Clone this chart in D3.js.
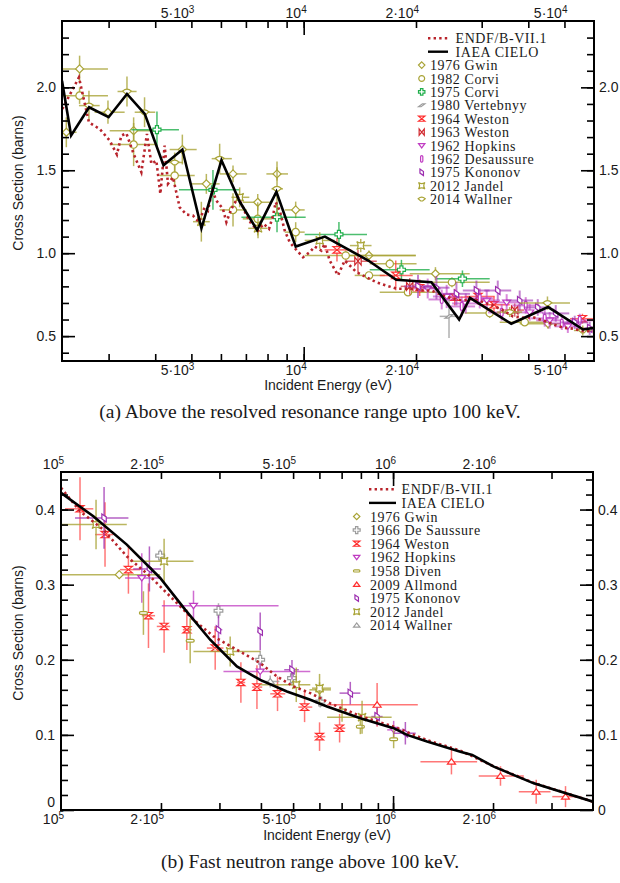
<!DOCTYPE html>
<html>
<head>
<meta charset="utf-8">
<script src="https://cdn.jsdelivr.net/npm/d3@7"></script>
<style>
  html, body { margin: 0; padding: 0; background: #fff; }
  svg { display: block; }
</style>
</head>
<body>
<svg id="chart" width="620" height="883"></svg>
<script>
// ---------------- Panel (a): unresolved range, 2.25 keV – 60 keV ----------------
// Evaluations: [energy (eV), cross section (b)]
const cieloA = [[2250,2.04],[2380,1.71],[2660,1.88],[3000,1.82],[3360,1.96],[3750,1.84],[4210,1.53],
  [4730,1.625],[5320,1.15],[6020,1.56],[6740,1.31],[7500,1.14],[8450,1.37],[9520,1.04],[11400,1.10],
  [14900,0.956],[17700,0.84],[22000,0.825],[26100,0.60],[27900,0.73],[36000,0.575],[45200,0.675],
  [56100,0.54],[60000,0.55]];
const endfA = [[2255,1.870],[2498,2.060],[2657,1.789],[2839,1.749],[3020,1.679],[3158,1.595],[3245,1.709],
  [3347,1.723],[3501,1.599],[3672,1.488],[3801,1.719],[3906,1.539],[4028,1.558],[4129,1.358],[4240,1.649],
  [4327,1.418],[4462,1.458],[4651,1.277],[4847,1.233],[5049,1.227],[5240,1.187],[5427,1.277],[5538,1.257],
  [5690,1.378],[5834,1.317],[6076,1.267],[6206,1.187],[6401,1.267],[6667,1.337],[6877,1.277],[7022,1.227],
  [7242,1.177],[7544,1.137],[7815,1.177],[8075,1.147],[8276,1.227],[8414,1.307],[8625,1.257],[8895,1.137],
  [9173,1.066],[9559,1.020],[9957,0.976],[10378,1.006],[10702,1.040],[11155,1.016],[11384,1.057],
  [11740,0.956],[12360,0.866],[12880,0.956],[13285,0.926],[13845,0.886],[14730,0.855],[15665,0.825],
  [16660,0.805],[17720,0.786],[18655,0.786],[19635,0.786],[20680,0.775],[21995,0.775],[23630,0.745],
  [25130,0.725],[26730,0.715],[28430,0.725],[30240,0.705],[32160,0.685],[34210,0.655],[36390,0.619],
  [38700,0.611],[41170,0.614],[43800,0.595],[46580,0.571],[49560,0.551],[52720,0.545],[56080,0.530],
  [60000,0.530]];

// Measurements: [energy, cross section, energy low, energy high, cross-section uncertainty]
const gwinA = [[2508,2.111,2250,2988,0.08],[2311,1.729,2250,2462,0.09],[2988,1.85,2752,3312,0.07],
  [3501,1.739,3020,4036,0.08],[4729,1.625,4373,5166,0.09],[5484,1.418,5000,5953,0.06],
  [6465,1.478,5953,7035,0.05],[7530,1.307,6864,8210,0.05],[8482,1.478,7943,9077,0.04],
  [9518,1.261,8895,10062,0.05],[14960,0.986,13150,19970,0.03],[22550,0.876,19240,27860,0.04],
  [45190,0.575,37930,52300,0.03]];
const corvi82A = [[2508,1.95,2250,2988,0.05],[3501,1.655,3020,4036,0.13],[4510,1.468,4111,5104,0.06],
  [6465,1.261,5953,7035,0.10],[7530,1.207,6864,8210,0.10],[9518,1.127,8895,10062,0.06],
  [12960,0.986,10062,19970,0.03],[14960,0.866,13700,16490,0.02],[17010,0.936,15030,20070,0.03],
  [19040,0.765,15990,23150,0.02],[24970,0.825,20460,31520,0.03],[31520,0.639,27010,37930,0.03],
  [39120,0.584,33530,45640,0.02]];
const corvi75A = [[4043,1.745,3452,4631,0.11],[5712,1.382,4631,6736,0.12],[8482,1.217,6808,10124,0.09],
  [12430,1.113,10062,14780,0.075],[18280,0.90,15030,21760,0.06],[26640,0.846,22690,31520,0.05]];
const vertebnyyA = [[24520,0.619,23150,26000,0.13]];
const weston64A = [[12280,1.02,11380,13420,0.07],[17650,0.866,15990,19600,0.09],[20460,0.792,18660,23150,0.05],
  [25400,0.735,23150,27860,0.05],[29330,0.739,27010,32500,0.05],[32360,0.689,29680,35660,0.05],
  [55870,0.605,51730,60000,0.03]];
const weston63A = [[13980,0.952,12880,15700,0.07],[19240,0.80,18200,20300,0.05],[36780,0.657,34500,39000,0.04]];
const hopkinsA = [[21500,0.787,19800,23300,0.06],[24170,0.739,22200,26200,0.07],[27190,0.697,25000,29500,0.06],
  [30950,0.715,28500,33600,0.06],[35000,0.703,32200,38000,0.05],[40350,0.643,37100,43800,0.05],
  [45640,0.595,42000,49600,0.05],[51050,0.559,47000,55400,0.04]];
const desaussureA = [[23440,0.721,21600,25400,0.06],[26520,0.679,24400,28800,0.06],[29640,0.727,27300,32200,0.06],
  [33940,0.643,31200,36900,0.05],[39370,0.685,36200,42800,0.05],[44260,0.607,40700,48100,0.05],
  [49190,0.577,45300,53400,0.04],[54950,0.595,50600,59700,0.04]];
const kononovA = [[20250,0.80,18600,22000,0.07],[22690,0.792,20900,24600,0.07],[25670,0.755,23600,27900,0.07],
  [29040,0.775,26700,31500,0.06],[33130,0.775,30500,36000,0.06],[37930,0.715,34900,41200,0.06],
  [42400,0.673,39000,46000,0.05],[47380,0.637,43600,51500,0.05],[53270,0.583,49000,57900,0.04],
  [58420,0.547,53700,60000,0.04]];
const jandelA = [[6736,1.337,6400,7150,0.06],[5317,1.19,5050,5600,0.12],[7544,1.15,7100,8000,0.06],
  [11040,1.077,10062,12110,0.05],[14220,1.046,13300,15200,0.04]];
const wallnerA = [[2657,1.89,2498,2839,0.09],[3360,1.975,3170,3565,0.09],[3745,1.85,3524,4000,0.09],
  [5953,1.57,5667,6418,0.09],[4510,1.547,4300,4750,0.06],[8482,1.388,8200,8800,0.165],
  [35660,0.645,33000,38500,0.03],[45020,0.699,37930,51730,0.04],[55980,0.534,53000,59000,0.03]];

const xTicksA = [3e3,4e3,5e3,6e3,7e3,8e3,9e3,1e4,2e4,3e4,4e4,5e4];
const xDecadesA = [1e4];
const xLabelsA = [5e3,1e4,2e4,5e4];
const yMinorA = [0.4,0.5,0.6,0.7,0.8,0.9,1.0,1.1,1.2,1.3,1.4,1.5,1.6,1.7,1.8,1.9,2.0,2.1,2.2,2.3];
const yLabelsA = [0.5,1.0,1.5,2.0];

// ---------------- Panel (b): fast range, 100 keV – 4 MeV ----------------
const cieloB = [[100000,0.4222],[125130,0.391],[157800,0.3533],[198900,0.3089],[236500,0.2667],
  [281300,0.2267],[338600,0.1911],[398000,0.1733],[479000,0.1577],[563300,0.1467],[632400,0.1378],
  [797000,0.1223],[1004000,0.1089],[1102000,0.100],[1266000,0.0911],[1595000,0.0777],[1731000,0.0733],
  [2011000,0.0577],[2654000,0.0355],[4000000,0.0111]];
const endfB = [[100000,0.429],[114100,0.3977],[134100,0.3733],[157800,0.3377],[185500,0.311],
  [213200,0.2844],[250600,0.2533],[287900,0.2311],[338600,0.2133],[398000,0.1956],[447000,0.1778],
  [501500,0.1644],[563300,0.1556],[647100,0.142],[797000,0.125],[1004000,0.111],[1266000,0.093],
  [1595000,0.079],[2011000,0.058],[2654000,0.036],[4000000,0.011]];

const gwinB = [[149800,0.3133,100000,198900,0.005],[600600,0.16,560000,650000,0.01]];
const desaussureB = [[198900,0.3387,192000,206000,0.008],[298000,0.2653,290000,306000,0.01],
  [398000,0.20,388000,408000,0.012],[496100,0.1756,485000,507000,0.01],[603500,0.1444,590000,617000,0.008]];
const weston64B = [[114100,0.401,102800,125100,0.042],[135700,0.3667,126600,143500,0.043],
  [159600,0.32,150600,173000,0.032],[183400,0.2587,175100,192000,0.043],[204400,0.2444,194300,213200,0.035],
  [239300,0.24,232800,247700,0.027],[291300,0.2156,275000,308500,0.029],[348100,0.1698,338600,358600,0.027],
  [389100,0.1636,376500,403600,0.029],[448800,0.1547,426700,473500,0.023],[541400,0.137,518200,571000,0.02],
  [600600,0.0977,579000,625000,0.019],[690200,0.1089,660700,718100,0.019]];
const hopkinsB = [[175100,0.3089,155900,198900,0.033],[250600,0.272,201200,452000,0.02],
  [398000,0.1844,308500,563300,0.012],[1004000,0.1067,960000,1060000,0.012]];
const divenB = [[177100,0.2622,172000,182000,0.029],[244900,0.2253,238000,252000,0.03],
  [702000,0.1324,690000,715000,0.015],[797000,0.111,785000,810000,0.01],[1004000,0.0942,990000,1020000,0.012]];
const allmondB = [[895200,0.14,633000,1187000,0.029],[1499000,0.0644,1209000,1791000,0.017],
  [2106000,0.0453,1811000,2476000,0.013],[2698000,0.0244,2391000,2980000,0.016],
  [3306000,0.0178,3016000,3669000,0.014]];
const kononovB = [[134800,0.3889,110200,159600,0.041],[184600,0.3209,165000,200000,0.03],
  [298000,0.24,290000,306000,0.019],[398000,0.2378,390000,406000,0.025],[496100,0.1867,470000,520000,0.013],
  [743300,0.1556,690000,797000,0.015],[895200,0.1244,860000,930000,0.012],[1089000,0.1022,1004000,1170000,0.015]];
const jandelB = [[127500,0.38,100000,157800,0.033],[204400,0.3311,161400,250600,0.03],
  [323200,0.2111,250600,398000,0.02],[511100,0.1667,398000,563300,0.023],[600600,0.1622,570000,650000,0.019],
  [806500,0.1236,633000,990000,0.022]];
const wallnerB = [[426700,0.1711,400000,455000,0.008]];

const xTicksB = [2e5,3e5,4e5,5e5,6e5,7e5,8e5,9e5,1e6,2e6,3e6];
const xDecadesB = [1e6];
const xLabelsB = [1e5,2e5,5e5,1e6,2e6];
const yMinorB = [0.02,0.04,0.06,0.08,0.1,0.12,0.14,0.16,0.18,0.2,0.22,0.24,0.26,0.28,0.3,0.32,0.34,0.36,0.38,0.4,0.42,0.44];
const yLabelsB = [0,0.1,0.2,0.3,0.4];

// ---------------- styling ----------------
const OLIVE = "#a9a437", GREEN = "#1fae4b", RED = "#ff2e2e", DRED = "#d0262c",
      MAG = "#c03cc2", PURP = "#9c2eb0", GRAY = "#9c9c9c", ENDF_C = "#b8232b";
const SANS = "'Liberation Sans', Arial, sans-serif";
const SERIF = "'Liberation Serif', 'Times New Roman', serif";

const svg = d3.select("#chart");

// marker outlines, centred on the origin, half-size s
function shapePath(kind, s) {
  switch (kind) {
    case "diamond": return `M0,${-s}L${s},0L0,${s}L${-s},0Z`;
    case "circle": return d3.symbol(d3.symbolCircle, Math.PI * s * s * 0.85)();
    case "plus": { const a = s * 0.38;
      return `M${-a},${-s}H${a}V${-a}H${s}V${a}H${a}V${s}H${-a}V${a}H${-s}V${-a}H${-a}Z`; }
    case "slash": return `M${-s},${s*0.45}L${s*0.2},${-s*0.45}L${s},${-s*0.45}L${-s*0.2},${s*0.45}Z`;
    case "hourglass": return `M${-s},${-s*0.8}H${s}L${-s},${s*0.8}H${s}Z`;
    case "bowtie": return `M${-s*0.8},${-s}V${s}L${s*0.8},${-s}V${s}Z`;
    case "triDown": return `M${-s},${-s*0.6}H${s}L0,${s*0.75}Z`;
    case "triUp": return `M${-s},${s*0.6}H${s}L0,${-s*0.75}Z`;
    case "vbar": { const w = s * 0.35;
      return `M${-w},${-s+w}A${w},${w} 0 0 1 ${w},${-s+w}V${s-w}A${w},${w} 0 0 1 ${-w},${s-w}Z`; }
    case "hbar": { const h = s * 0.35;
      return `M${-s+h},${-h}H${s-h}A${h},${h} 0 0 1 ${s-h},${h}H${-s+h}A${h},${h} 0 0 1 ${-s+h},${-h}Z`; }
    case "rhomb": return `M${-s*0.55},${-s}L${s*0.55},${-s*0.25}V${s}L${-s*0.55},${s*0.25}Z`;
    case "star": return `M${-s},${-s}Q0,${-s*0.3} ${s},${-s}Q${s*0.3},0 ${s},${s}Q0,${s*0.3} ${-s},${s}Q${-s*0.3},0 ${-s},${-s}Z`;
    case "saucer": return `M${-s*1.1},${-s*0.1}Q0,${-s*1.1} ${s*1.1},${-s*0.1}L${s*0.3},${s*0.6}H${-s*0.3}Z`;
    case "flower": return d3.symbol(d3.symbolCross, s * s * 2.6)();
  }
}

// "m·10^e" tick label with a raised exponent
function logLabel(sel, v) {
  const e = Math.floor(Math.log10(v) + 1e-9);
  const m = Math.round(v / Math.pow(10, e));
  sel.text(null);
  sel.append("tspan").text((m === 1 ? "" : m + "\u00b7") + "10");
  sel.append("tspan").attr("dy", -5.5).attr("font-size", 10).text(e);
}

function styleAxis(g) {
  g.select(".domain").remove();
  g.attr("color", "#000");
  g.selectAll("line").attr("stroke-width", 1.6);
  g.selectAll("text").attr("font-family", SANS).attr("font-size", 14).attr("fill", "#1a1a1a");
}

function drawPanel(P) {
  const x = P.x, y = P.y;
  const [xl, xr] = x.range(), [yb, yt] = y.range();

  svg.append("clipPath").attr("id", P.id + "-clip")
    .append("rect").attr("x", xl).attr("y", yt).attr("width", xr - xl).attr("height", yb - yt);
  const plot = svg.append("g").attr("clip-path", `url(#${P.id}-clip)`);

  // experimental points with error bars
  P.series.forEach(s => {
    const gs = plot.append("g");
    const eb = gs.append("g").attr("stroke", s.color).attr("stroke-width", s.ebWidth || 1.5)
      .attr("stroke-opacity", s.ebOpacity || 0.8);
    eb.selectAll("line.h").data(s.data).join("line").attr("class", "h")
      .attr("x1", d => x(d[2])).attr("x2", d => x(d[3]))
      .attr("y1", d => y(d[1])).attr("y2", d => y(d[1]));
    eb.selectAll("line.v").data(s.data).join("line").attr("class", "v")
      .attr("x1", d => x(d[0])).attr("x2", d => x(d[0]))
      .attr("y1", d => y(d[1] - d[4])).attr("y2", d => y(d[1] + d[4]));
    gs.selectAll("path").data(s.data).join("path")
      .attr("d", shapePath(s.shape, 4))
      .attr("transform", d => `translate(${x(d[0])},${y(d[1])})`)
      .attr("fill", "#fff").attr("stroke", s.color).attr("stroke-width", 1.2);
  });

  const line = d3.line().x(d => x(d[0])).y(d => y(d[1]));
  plot.append("path").datum(P.endf).attr("d", line).attr("fill", "none")
    .attr("stroke", ENDF_C).attr("stroke-width", 2.6).attr("stroke-dasharray", "2.4,3.2");
  plot.append("path").datum(P.cielo).attr("d", line).attr("fill", "none")
    .attr("stroke", "#000").attr("stroke-width", 2.6).attr("stroke-linejoin", "miter");

  // axes: ticks point inward, labels outside
  svg.append("g").attr("transform", `translate(0,${yb})`)
    .call(d3.axisBottom(x).tickValues(P.xTicks).tickSize(-7).tickFormat("")).call(styleAxis);
  svg.append("g").attr("transform", `translate(0,${yb})`)
    .call(d3.axisBottom(x).tickValues(P.xDecades).tickSize(-14).tickFormat("")).call(styleAxis);
  svg.append("g").attr("transform", `translate(0,${yt})`)
    .call(d3.axisTop(x).tickValues(P.xTicks).tickSize(-7).tickFormat("")).call(styleAxis);
  svg.append("g").attr("transform", `translate(0,${yt})`)
    .call(d3.axisTop(x).tickValues(P.xDecades).tickSize(-14).tickFormat("")).call(styleAxis);

  [[yb + P.xLabelBottomDy], [yt - 3]].forEach(([ty]) => {
    svg.append("g").selectAll("text").data(P.xLabels).join("text")
      .attr("x", d => x(d) + 3).attr("y", ty).attr("text-anchor", "end")
      .attr("font-family", SANS).attr("font-size", 14).attr("fill", "#1a1a1a")
      .each(function (d) { logLabel(d3.select(this), d); });
  });

  const yLeft = svg.append("g").attr("transform", `translate(${xl},0)`);
  yLeft.append("g").call(d3.axisLeft(y).tickValues(P.yMinor).tickSize(-7).tickFormat("")).call(styleAxis);
  // the "0" label sits a little higher so it clears the corner energy label below it
  yLeft.append("g").call(d3.axisLeft(y).tickValues(P.yLabels).tickSize(-13).tickPadding(6).tickFormat(P.yFmt))
    .call(styleAxis)
    .call(g => g.selectAll(".tick text").filter(d => d === 0).attr("dy", "-0.22em"));
  const yRight = svg.append("g").attr("transform", `translate(${xr},0)`);
  yRight.append("g").call(d3.axisRight(y).tickValues(P.yMinor).tickSize(-7).tickFormat("")).call(styleAxis);
  yRight.append("g").call(d3.axisRight(y).tickValues(P.yLabels).tickSize(-13).tickPadding(5).tickFormat(P.yFmt))
    .call(styleAxis);

  svg.append("rect").attr("x", xl).attr("y", yt).attr("width", xr - xl).attr("height", yb - yt)
    .attr("fill", "none").attr("stroke", "#000").attr("stroke-width", 2);

  // axis titles and caption
  svg.append("text").attr("transform", `translate(18,${(yb + yt) / 2 - 8}) rotate(-90)`)
    .attr("text-anchor", "middle").attr("dominant-baseline", "central")
    .attr("font-family", SANS).attr("font-size", 14).attr("fill", "#1a1a1a").text("Cross Section (barns)");
  svg.append("text").attr("x", (xl + xr) / 2).attr("y", yb + P.xTitleDy)
    .attr("text-anchor", "middle").attr("font-family", SANS).attr("font-size", 14).attr("fill", "#1a1a1a")
    .text("Incident Energy (eV)");
  svg.append("text").attr("x", 310).attr("y", P.captionY).attr("text-anchor", "middle")
    .attr("font-family", SERIF).attr("font-size", 19.5).attr("fill", "#1a1a1a").text(P.caption);

  // legend
  const L = P.legend;
  const lg = svg.append("g").attr("font-family", SERIF).attr("font-size", 14)
    .attr("letter-spacing", 0.6).attr("fill", "#1a1a1a");
  lg.append("line").attr("x1", L.lineX0).attr("x2", L.lineX1).attr("y1", L.y0).attr("y2", L.y0)
    .attr("stroke", ENDF_C).attr("stroke-width", 2.4).attr("stroke-dasharray", "2.4,3.2");
  lg.append("text").attr("x", L.lineTextX).attr("y", L.y0 + 5).text("ENDF/B-VII.1");
  lg.append("line").attr("x1", L.lineX0).attr("x2", L.lineX1).attr("y1", L.y0 + L.dy).attr("y2", L.y0 + L.dy)
    .attr("stroke", "#000").attr("stroke-width", 2.4);
  lg.append("text").attr("x", L.lineTextX).attr("y", L.y0 + L.dy + 5).text("IAEA CIELO");
  P.series.forEach((s, i) => {
    const cy = L.y0 + (i + 2) * L.dy;
    lg.append("path").attr("d", shapePath(s.shape, 3.2)).attr("transform", `translate(${L.markerX},${cy})`)
      .attr("fill", "#fff").attr("stroke", s.color).attr("stroke-width", 1.2);
    lg.append("text").attr("x", L.textX).attr("y", cy + 5).text(s.name);
  });
}

drawPanel({
  id: "pa",
  x: d3.scaleLog().domain([2250, 60000]).range([62, 594]),
  y: d3.scaleLinear().domain([0.35, 2.4]).range([361, 21]),
  cielo: cieloA, endf: endfA,
  xTicks: xTicksA, xDecades: xDecadesA, xLabels: xLabelsA,
  yMinor: yMinorA, yLabels: yLabelsA, yFmt: d3.format(".1f"),
  xLabelBottomDy: 14, xTitleDy: 29, captionY: 418,
  caption: "(a) Above the resolved resonance range upto 100 keV.",
  legend: { lineX0: 428, lineX1: 448, lineTextX: 455.5, markerX: 421.7, textX: 430, y0: 38.3, dy: 13.4 },
  series: [
    { name: "1976 Gwin", data: gwinA, shape: "diamond", color: OLIVE },
    { name: "1982 Corvi", data: corvi82A, shape: "circle", color: OLIVE },
    { name: "1975 Corvi", data: corvi75A, shape: "plus", color: GREEN },
    { name: "1980 Vertebnyy", data: vertebnyyA, shape: "slash", color: GRAY },
    { name: "1964 Weston", data: weston64A, shape: "hourglass", color: RED, ebOpacity: 0.7 },
    { name: "1963 Weston", data: weston63A, shape: "bowtie", color: DRED, ebOpacity: 0.7 },
    { name: "1962 Hopkins", data: hopkinsA, shape: "triDown", color: MAG, ebOpacity: 0.6, ebWidth: 2 },
    { name: "1962 Desaussure", data: desaussureA, shape: "vbar", color: MAG, ebOpacity: 0.6, ebWidth: 2 },
    { name: "1975 Kononov", data: kononovA, shape: "rhomb", color: PURP, ebOpacity: 0.6, ebWidth: 2 },
    { name: "2012 Jandel", data: jandelA, shape: "star", color: OLIVE },
    { name: "2014 Wallner", data: wallnerA, shape: "saucer", color: OLIVE }
  ]
});

drawPanel({
  id: "pb",
  x: d3.scaleLog().domain([1e5, 4e6]).range([61, 593]),
  y: d3.scaleLinear().domain([0, 0.45]).range([810, 472]),
  cielo: cieloB, endf: endfB,
  xTicks: xTicksB, xDecades: xDecadesB, xLabels: xLabelsB,
  yMinor: yMinorB, yLabels: yLabelsB, yFmt: d => d === 0 ? "0" : d3.format(".1f")(d),
  xLabelBottomDy: 14, xTitleDy: 30, captionY: 868,
  caption: "(b) Fast neutron range above 100 keV.",
  legend: { lineX0: 369, lineX1: 396, lineTextX: 401.5, markerX: 356.7, textX: 370, y0: 489.3, dy: 13.6 },
  series: [
    { name: "1976 Gwin", data: gwinB, shape: "diamond", color: OLIVE },
    { name: "1966 De Saussure", data: desaussureB, shape: "flower", color: GRAY },
    { name: "1964 Weston", data: weston64B, shape: "hourglass", color: RED, ebOpacity: 0.65 },
    { name: "1962 Hopkins", data: hopkinsB, shape: "triDown", color: MAG, ebOpacity: 0.75 },
    { name: "1958 Diven", data: divenB, shape: "hbar", color: OLIVE },
    { name: "2009 Allmond", data: allmondB, shape: "triUp", color: RED, ebOpacity: 0.65 },
    { name: "1975 Kononov", data: kononovB, shape: "rhomb", color: PURP, ebOpacity: 0.75 },
    { name: "2012 Jandel", data: jandelB, shape: "star", color: OLIVE },
    { name: "2014 Wallner", data: wallnerB, shape: "triUp", color: GRAY }
  ]
});
</script>
</body>
</html>
